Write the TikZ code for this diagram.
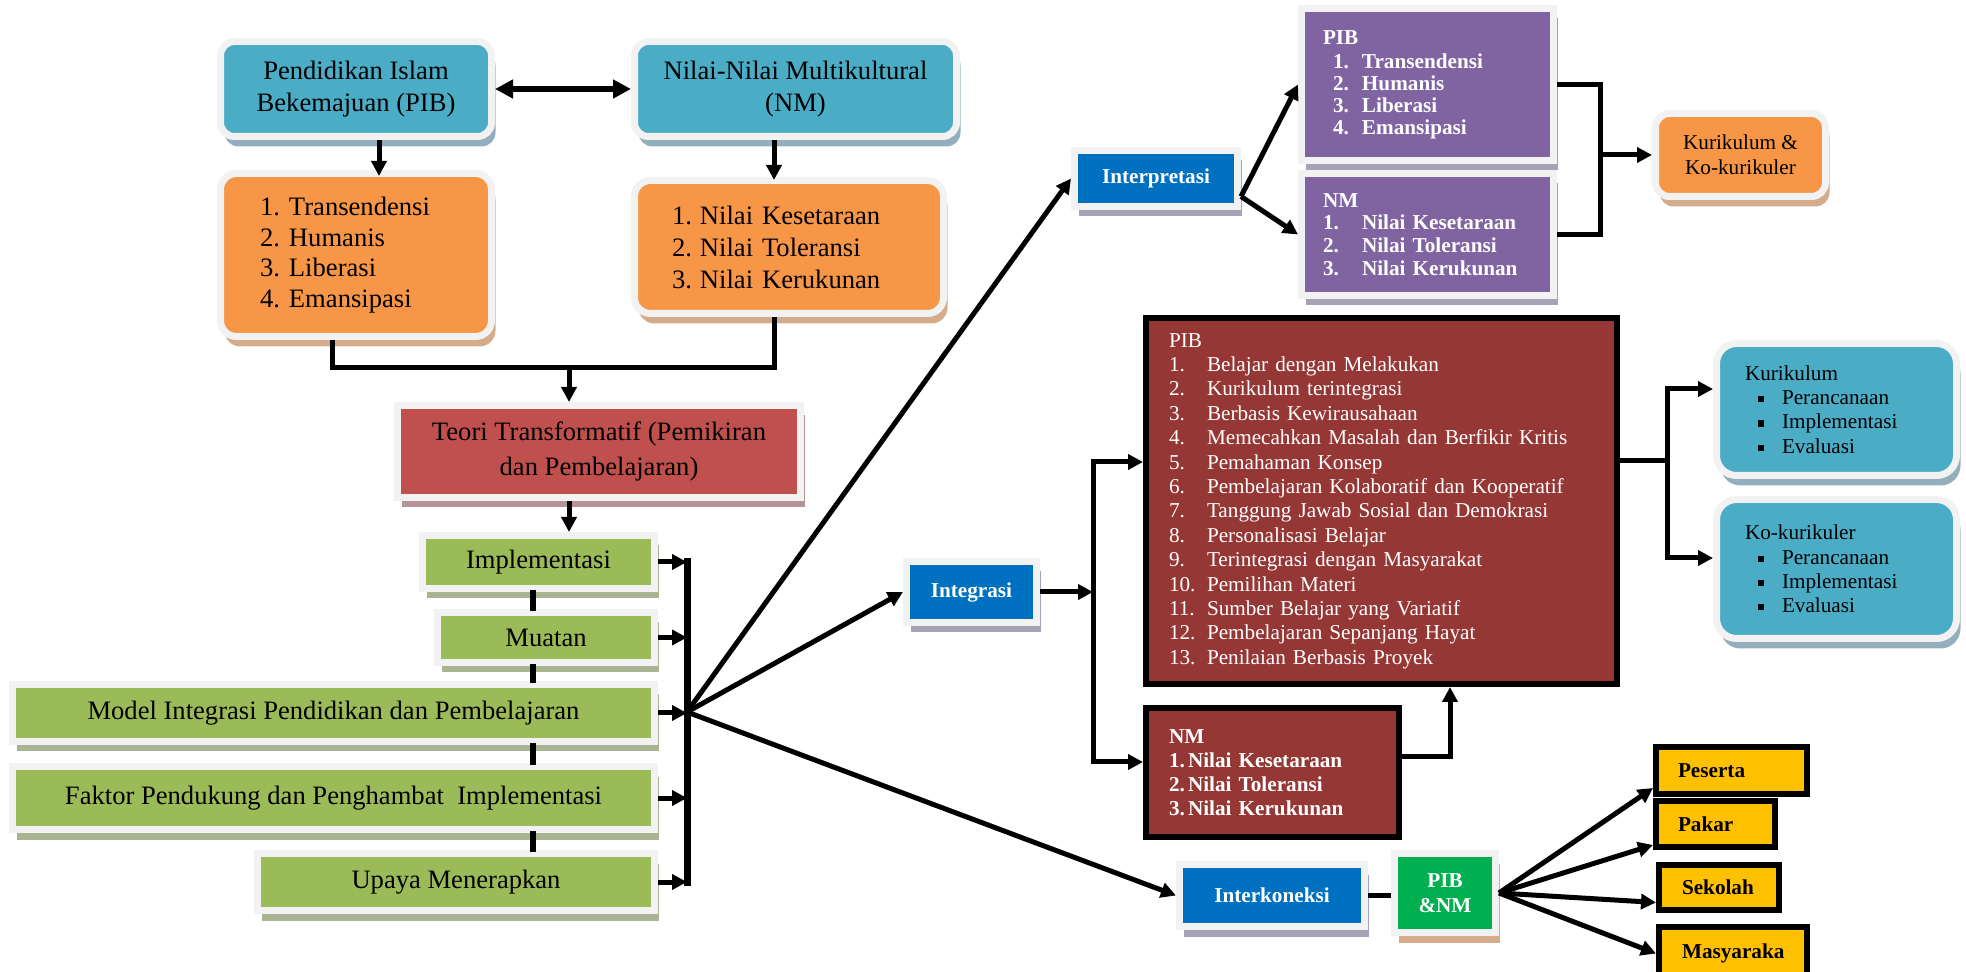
\documentclass[tikz,border=0pt]{standalone}
\usepackage{fontspec}
\setmainfont{Liberation Serif}
\usetikzlibrary{arrows.meta,shadows,calc}

\definecolor{wblue}{HTML}{4BACC6}
\definecolor{orng}{HTML}{F79646}
\definecolor{rred}{HTML}{C0504D}
\definecolor{ggreen}{HTML}{9BBB59}
\definecolor{dblue}{HTML}{0070C0}
\definecolor{purp}{HTML}{8064A2}
\definecolor{pgreen}{HTML}{00B050}
\definecolor{dred}{HTML}{953735}
\definecolor{gold}{HTML}{FFC000}
\definecolor{fgray}{HTML}{F2F2F2}
\definecolor{shblue}{HTML}{93AFBD}
\definecolor{shorng}{HTML}{D4AC8B}
\definecolor{shred}{HTML}{B89393}
\definecolor{shgreen}{HTML}{A9B592}
\definecolor{shgrey}{HTML}{A7A3B6}

\newcommand\sqb{\raisebox{1.1pt}{\rule{3.1pt}{3.1pt}}}

% box by path extents (pixels of the 1966x972 reference)
\newcommand\mybox[7]{%
  \pgfmathsetmacro\bxw{(#4-#2)*0.5}%
  \pgfmathsetmacro\bxh{(#5-#3)*0.5}%
  \pgfmathsetmacro\bxx{(#2+#4)/2}%
  \pgfmathsetmacro\bxy{(#3+#5)/2}%
  \node[#6, minimum width=\bxw pt, minimum height=\bxh pt] (#1) at (\bxx,\bxy) {#7};}
\newcommand\mylbox[8]{%
  \pgfmathsetmacro\bxw{(#4-#2)*0.5}%
  \pgfmathsetmacro\bxh{(#5-#3)*0.5}%
  \pgfmathsetmacro\bxx{(#2+#4)/2}%
  \pgfmathsetmacro\bxy{(#3+#5)/2}%
  \pgfmathsetmacro\bxi{#7*0.5}%
  \pgfmathsetmacro\bxt{(#4-#2-2*#7)*0.5}%
  \node[#6, minimum width=\bxw pt, minimum height=\bxh pt, inner xsep=\bxi pt, inner ysep=0pt, text width=\bxt pt, align=left] (#1) at (\bxx,\bxy) {#8};}

\tikzset{
  ln/.style={draw=black, line width=2.5pt},
  arr/.style={ln, -{Triangle[length=7.5pt,width=7.5pt]}},
  dbl/.style={draw=black, line width=3pt, {Triangle[length=9pt,width=9pt]}-{Triangle[length=9pt,width=9pt]}},
  dashseg/.style={draw=black, line width=3pt, shorten <=-1pt, shorten >=-1pt},
  frm/.style={draw=fgray, line width=3.5pt, inner sep=2pt},
  shb/.style={general shadow={fill=#1, shadow xshift=2pt, shadow yshift=-5pt}},
  topbox/.style={frm, fill=wblue, rounded corners=7pt, shb=shblue, align=center, font=\fontsize{13.3}{16}\selectfont},
  orbox/.style={frm, fill=orng, rounded corners=8pt, shb=shorng},
  redbox/.style={frm, fill=rred, shb=shred, align=center, font=\fontsize{13.3}{17.5}\selectfont},
  grbox/.style={frm, fill=ggreen, shb=shgreen, font=\fontsize{13.3}{16}\selectfont},
  bluebox/.style={frm, fill=dblue, shb=shgrey, text=white, align=center, font=\bfseries\fontsize{10.6}{12.5}\selectfont},
  purbox/.style={frm, fill=purp, shb=shgrey, text=white},
  dredbox/.style={draw=black, line width=3pt, fill=dred, text=white},
  goldbox/.style={draw=black, line width=3pt, fill=gold, font=\bfseries\fontsize{10.6}{12.5}\selectfont},
  kurbox/.style={frm, fill=wblue, rounded corners=10pt, shb=shblue, font=\fontsize{10.6}{12.15}\selectfont},
}

\begin{document}
\begin{tikzpicture}[x=0.5pt, y=-0.5pt, line join=miter]
\useasboundingbox (0,0) rectangle (1966,972);
\clip (0,0) rectangle (1966,972);

% ---------- left part ----------
\mybox{pibT}{220.5}{41.5}{491.5}{136.5}{topbox}{Pendidikan Islam\\Bekemajuan (PIB)}
\mybox{nmT}{634.5}{41.5}{956.5}{136.5}{topbox}{Nilai-Nilai Multikultural\\(NM)}
\mylbox{pibO}{220.5}{173.5}{491.5}{336.5}{orbox, font=\fontsize{13.3}{15.25}\selectfont}{39.5}{\makebox[14.5pt][l]{1.}Transendensi\\\makebox[14.5pt][l]{2.}Humanis\\\makebox[14.5pt][l]{3.}Liberasi\\\makebox[14.5pt][l]{4.}Emansipasi}
\mylbox{nmO}{634.5}{180.5}{943.5}{313.5}{orbox, font=\fontsize{13.3}{16}\selectfont}{37.5}{\makebox[14pt][l]{1.}Nilai Kesetaraan\\\makebox[14pt][l]{2.}Nilai Toleransi\\\makebox[14pt][l]{3.}Nilai Kerukunan}
\mybox{teori}{397.5}{405.5}{800.5}{497.5}{redbox}{Teori Transformatif (Pemikiran\\dan Pembelajaran)}

\mybox{impl}{422.5}{535.5}{654.5}{588.5}{grbox}{Implementasi}
\mybox{muatan}{437.5}{612.5}{654.5}{662.5}{grbox}{Muatan}
\mybox{model}{12.5}{684.5}{654.5}{741.5}{grbox}{Model Integrasi Pendidikan dan Pembelajaran}
\mybox{faktor}{12.5}{766.5}{654.5}{829.5}{grbox}{Faktor Pendukung dan Penghambat\ \ Implementasi}
\mybox{upaya}{257.5}{853.5}{654.5}{910.5}{grbox}{Upaya Menerapkan}

% ---------- middle / right ----------
\mybox{interp}{1074.5}{150.5}{1237.5}{206.5}{bluebox}{Interpretasi}
\mybox{integ}{906.5}{561.5}{1036.5}{622.5}{bluebox}{Integrasi}
\mybox{interk}{1179.5}{864.5}{1364.5}{926.5}{bluebox}{Interkoneksi}
\mybox{pibnm}{1394.5}{853.5}{1495.5}{932.5}{frm, fill=pgreen, shb=shorng, text=white, align=center, font=\bfseries\fontsize{10.6}{12.5}\selectfont}{PIB\\\&NM}

\mylbox{pibP}{1301.5}{8.5}{1553.5}{160.5}{purbox, font=\bfseries\fontsize{10.6}{10.9}\selectfont}{21.5}{PIB\\[1.5pt]\hspace*{5pt}\makebox[14.5pt][l]{1.}Transendensi\\\hspace*{5pt}\makebox[14.5pt][l]{2.}Humanis\\\hspace*{5pt}\makebox[14.5pt][l]{3.}Liberasi\\\hspace*{5pt}\makebox[14.5pt][l]{4.}Emansipasi}
\mylbox{nmP}{1301.5}{173.5}{1553.5}{295.5}{purbox, font=\bfseries\fontsize{10.6}{11.4}\selectfont}{21.5}{NM\\\makebox[19.5pt][l]{1.}Nilai Kesetaraan\\\makebox[19.5pt][l]{2.}Nilai Toleransi\\\makebox[19.5pt][l]{3.}Nilai Kerukunan}
\mybox{kko}{1655.5}{113.5}{1825.5}{196.5}{frm, fill=orng, rounded corners=7pt, shb=shorng, align=center, font=\fontsize{10.6}{12.5}\selectfont}{Kurikulum \&\\Ko-kurikuler}

\mylbox{pibD}{1146}{318}{1617}{684}{dredbox, font=\fontsize{10.6}{12.2}\selectfont}{23}{PIB\\
\makebox[19pt][l]{1.}Belajar dengan Melakukan\\
\makebox[19pt][l]{2.}Kurikulum terintegrasi\\
\makebox[19pt][l]{3.}Berbasis Kewirausahaan\\
\makebox[19pt][l]{4.}Memecahkan Masalah dan Berfikir Kritis\\
\makebox[19pt][l]{5.}Pemahaman Konsep\\
\makebox[19pt][l]{6.}Pembelajaran Kolaboratif dan Kooperatif\\
\makebox[19pt][l]{7.}Tanggung Jawab Sosial dan Demokrasi\\
\makebox[19pt][l]{8.}Personalisasi Belajar\\
\makebox[19pt][l]{9.}Terintegrasi dengan Masyarakat\\
\makebox[19pt][l]{10.}Pemilihan Materi\\
\makebox[19pt][l]{11.}Sumber Belajar yang Variatif\\
\makebox[19pt][l]{12.}Pembelajaran Sepanjang Hayat\\
\makebox[19pt][l]{13.}Penilaian Berbasis Proyek}
\mylbox{nmD}{1146}{708}{1399}{837}{dredbox, font=\bfseries\fontsize{10.6}{12}\selectfont}{23}{NM\\\makebox[9.5pt][l]{1.}Nilai Kesetaraan\\\makebox[9.5pt][l]{2.}Nilai Toleransi\\\makebox[9.5pt][l]{3.}Nilai Kerukunan}

\mylbox{kur}{1716.5}{343.5}{1956.5}{475.5}{kurbox}{28.5}{Kurikulum\\\hspace*{6.5pt}\makebox[12pt][l]{\sqb}Perancanaan\\\hspace*{6.5pt}\makebox[12pt][l]{\sqb}Implementasi\\\hspace*{6.5pt}\makebox[12pt][l]{\sqb}Evaluasi}
\mylbox{kok}{1716.5}{499.5}{1956.5}{638.5}{kurbox}{28.5}{Ko-kurikuler\\\hspace*{6.5pt}\makebox[12pt][l]{\sqb}Perancanaan\\\hspace*{6.5pt}\makebox[12pt][l]{\sqb}Implementasi\\\hspace*{6.5pt}\makebox[12pt][l]{\sqb}Evaluasi}

\mylbox{peserta}{1656}{747}{1807}{794}{goldbox}{22}{Peserta}
\mylbox{pakar}{1656}{801}{1775}{847}{goldbox}{22}{Pakar}
\mylbox{sekolah}{1659}{865}{1779}{910}{goldbox}{23}{Sekolah}
\mylbox{masy}{1659}{927}{1807}{980}{goldbox}{23}{Masyaraka}

% ---------- connectors: top left ----------
\draw[dbl] (pibT.east) -- (nmT.west);
\coordinate (ax1) at (379,0);
\coordinate (ax2) at (774,0);
\draw[arr, shorten >=-3pt] (pibT.south -| ax1) -- (pibO.north -| ax1);
\draw[arr, shorten >=-1.5pt] (nmT.south -| ax2) -- (nmO.north -| ax2);
\coordinate (j1) at (332,368);
\coordinate (j2) at (774,368);
\coordinate (j3) at (569,368);
\draw[ln] (pibO.south -| j1) -- (j1) -- (j2) -- (nmO.south -| j2);
\draw[arr] (j3) -- (teori.north -| j3);
\draw[arr] (teori.south -| j3) -- (impl.north -| j3);

% dashed links between green boxes
\coordinate (dx) at (533,0);
\draw[dashseg] (impl.south -| dx) -- (muatan.north -| dx);
\draw[dashseg] (muatan.south -| dx) -- (model.north -| dx);
\draw[dashseg] (model.south -| dx) -- (faktor.north -| dx);
\draw[dashseg] (faktor.south -| dx) -- (upaya.north -| dx);

% bus
\coordinate (hub) at (687,712);
\draw[draw=black, line width=3.5pt, line cap=rect] (impl.east -| hub) -- (upaya.east -| hub);
\foreach \n in {impl,muatan,model,faktor,upaya}
  \draw[arr] (\n.east) -- (\n.east -| hub);

\draw[arr] (hub) -- (interp.west);
\draw[arr] (hub) -- (integ.west);
\draw[arr] (hub) -- (interk.west);

% interpretasi
\coordinate (ip) at ($(interp.east)+(0,18)$);
\draw[arr] (ip) -- (pibP.west);
\draw[arr] (ip) -- (nmP.west);
\coordinate (br) at (1600,0);
\draw[ln] (pibP.east) -- (pibP.east -| br) -- (nmP.east -| br) -- (nmP.east);
\draw[arr] (br |- kko.west) -- (kko.west);

% integrasi
\coordinate (vx) at (1093,0);
\coordinate (v1) at (1093,462);
\coordinate (v2) at (1093,762);
\draw[arr] (integ.east) -- (integ.east -| vx);
\draw[arr] (v2) -- (v1) -- (v1 -| pibD.west);
\draw[arr] (v1) -- (v2) -- (v2 -| nmD.west);
\coordinate (c1) at (1450,757);
\draw[arr] (c1 -| nmD.east) -- (c1) -- (c1 |- pibD.south);
\coordinate (k0) at (1667,461);
\coordinate (k1) at (1667,389);
\coordinate (k2) at (1667,558);
\draw[ln] (k0 -| pibD.east) -- (k0);
\draw[arr] (k2) -- (k1) -- (k1 -| kur.west);
\draw[arr] (k1) -- (k2) -- (k2 -| kok.west);

% interkoneksi
\draw[ln] (interk.east) -- (interk.east -| pibnm.west);
\draw[arr] (pibnm.east) -- ($(peserta.south west)+(0,-9)$);
\draw[arr] (pibnm.east) -- ($(pakar.south west)+(0,-5)$);
\draw[arr] (pibnm.east) -- ($(sekolah.west)+(0,15)$);
\draw[arr] (pibnm.east) -- (masy.west);
\end{tikzpicture}
\end{document}
